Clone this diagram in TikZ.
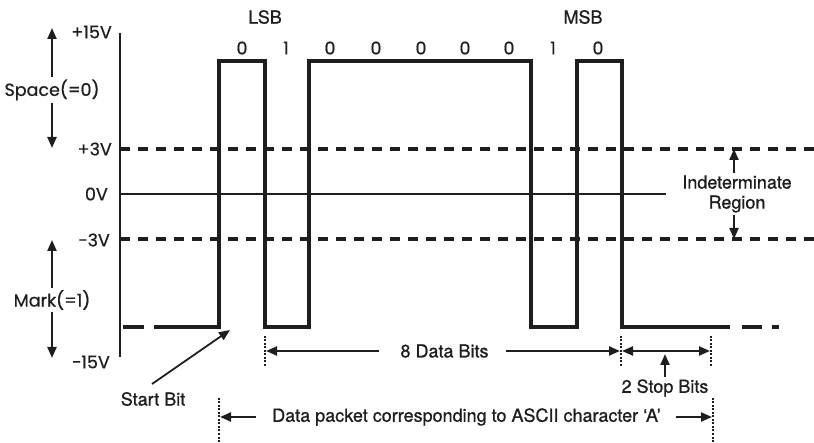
\documentclass[tikz,border=0pt]{standalone}
\usepackage{fontspec}
\setmainfont{TeX Gyre Heros}[FakeBold=0.9]
\newfontfamily\geo{Poppins}[FakeBold=0.6]
\usetikzlibrary{arrows.meta}
\definecolor{ink}{HTML}{1E1E1E}
\begin{document}
\begin{tikzpicture}[x=1pt,y=-1pt,
  wave/.style={draw=ink,line width=3.8pt,line join=miter},
  axisln/.style={draw=ink,line width=2.8pt},
  thr/.style={draw=ink,line width=3.3pt,dash pattern=on 10pt off 8pt},
  zeroln/.style={draw=ink,line width=1.4pt},
  arr/.style={draw=ink,line width=2.2pt,-{Triangle[length=11pt,width=9pt]}},
  darr/.style={draw=ink,line width=2.2pt,{Triangle[length=11pt,width=9pt]}-{Triangle[length=11pt,width=9pt]}},
  dotln/.style={draw=ink,line width=1.7pt,dash pattern=on 2pt off 1.5pt},
  txt/.style={text=ink,font=\fontsize{18}{20}\selectfont,inner sep=2pt},
  gtxt/.style={text=ink,font=\geo\fontsize{17.5}{19}\selectfont,inner sep=2pt},
  vlbl/.style={gtxt,anchor=east}]
\useasboundingbox (0,0) rectangle (814,443);
% axis
\coordinate (axT) at (120,33);
\coordinate (axB) at (120,357);
\draw[axisln] (axT) -- (axB);
% thresholds
\coordinate (p3L) at (120,149); \coordinate (p3R) at (814,149);
\coordinate (m3L) at (120,239); \coordinate (m3R) at (814,239);
\coordinate (z0L) at (120,194); \coordinate (z0R) at (666,194);
\draw[thr] (p3L) -- (p3R);
\draw[thr] (m3L) -- (m3R);
\draw[zeroln] (z0L) -- (z0R);
% voltage labels
\node[vlbl] (v15) at (114,32) {+15V};
\node[vlbl] (v3) at (114,149) {+3V};
\node[vlbl] (v0) at (110,194) {0V};
\node[vlbl] (vm3) at (112,240) {−3V};
\node[vlbl] (vm15) at (112,362) {−15V};
% waveform
\coordinate (w0) at (154,327);
\coordinate (w1) at (219,327);
\coordinate (w2) at (730,327);
\draw[wave] (w0) -- (w1) -- (219,61) -- (265,61) -- (265,327) -- (309,327) -- (309,61)
  -- (531,61) -- (531,327) -- (577,327) -- (577,61) -- (622,61) -- (622,327) -- (w2);
\draw[wave] (123,327) -- (144,327);
\draw[wave] (742,327) -- (762,327);
\draw[wave] (772,327) -- (779,327);
% bit labels
\foreach \x/\b [count=\i] in {242/0,286/1,330/0,376/0,421/0,465/0,509/0,553/1,598/0}
  \node[gtxt] (bit\i) at (\x,48) {\b};
\node[txt] (lsb) at (265,17) {LSB};
\node[txt] (msb) at (583,17) {MSB};
% space / mark
\node[gtxt] (space) at (52,90) {Space(=0)};
\coordinate (spT) at (52,28); \coordinate (spB) at (52,148);
\draw[arr] (space.north) -- (spT);
\draw[arr] (space.south) -- (spB);
\node[gtxt] (mark) at (52,300) {Mark(=1)};
\coordinate (mkT) at (52,240); \coordinate (mkB) at (52,358);
\draw[arr] (mark.north) -- (mkT);
\draw[arr] (mark.south) -- (mkB);
% indeterminate region
\node[txt,align=center] (ind) at (737,194) {Indeterminate\\Region};
\coordinate (inT) at (734,149); \coordinate (inB) at (734,239);
\draw[arr] (ind.north -| inT) -- (inT);
\draw[arr] (ind.south -| inB) -- (inB);
% start bit
\node[txt] (sb) at (153,399) {Start Bit};
\coordinate (sbT) at (230,330);
\draw[draw=ink,line width=1.8pt,-{Triangle[length=11pt,width=9pt]}] (152,384) -- (sbT);
% dotted markers
\coordinate (d1a) at (265,336); \coordinate (d1b) at (265,366);
\coordinate (d2a) at (621,336); \coordinate (d2b) at (621,366);
\coordinate (d3a) at (711,336); \coordinate (d3b) at (711,366);
\coordinate (d4a) at (219,398); \coordinate (d4b) at (219,443);
\coordinate (d5a) at (713,398); \coordinate (d5b) at (713,443);
\foreach \n in {1,...,5} \draw[dotln] (d\n a) -- (d\n b);
% 8 data bits
\node[txt] (db) at (444.5,351) {8 Data Bits};
\coordinate (dbL) at (266,351); \coordinate (dbR) at (620,351);
\draw[arr] ([xshift=-19pt]db.west) -- (dbL);
\draw[arr] ([xshift=15pt]db.east) -- (dbR);
% 2 stop bits
\coordinate (stL) at (622,351); \coordinate (stR) at (710,351);
\draw[darr] (stL) -- (stR);
\node[txt] (stop) at (665,388) {2 Stop Bits};
\coordinate (stA) at (665,354);
\draw[arr] (stop.north) -- (stA);
% data packet
\node[txt] (dp) at (466.5,417) {Data packet corresponding to ASCII character ‘A’};
\coordinate (dpL) at (220,417); \coordinate (dpR) at (712,417);
\draw[arr] ([xshift=-14pt]dp.west) -- (dpL);
\draw[arr] ([xshift=13pt]dp.east) -- (dpR);
\end{tikzpicture}
\end{document}
